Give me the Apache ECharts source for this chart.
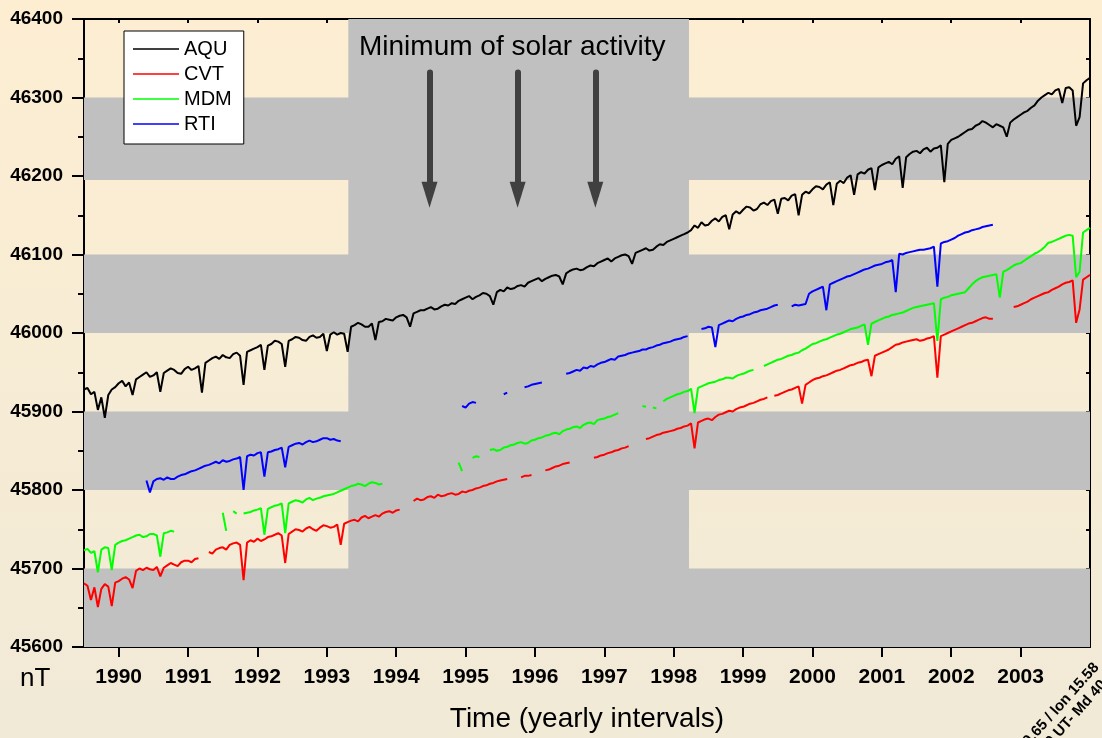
<!DOCTYPE html>
<html>
<head>
<meta charset="utf-8">
<title>Total intensity F - AQU, CVT, MDM, RTI</title>
<script src="https://cdn.jsdelivr.net/npm/echarts@6.0.0/dist/echarts.min.js"></script>
<style>
html, body { margin: 0; padding: 0; }
#chart { width: 1102px; height: 738px; }
</style>
</head>
<body>
<div id="chart"></div>
<script>
// sampling grid: one value every 0.05 year, 1989.5 .. 2004.0
var years = [];
for (var i = 0; i <= 290; i++) years.push(Math.round((1989.5 + i * 0.05) * 100) / 100);

var yearTicks = [1990, 1991, 1992, 1993, 1994, 1995, 1996, 1997, 1998, 1999, 2000, 2001, 2002, 2003];

// nT values (null = no data), one row per year
var aqu = [
  45928, 45930, 45922, 45925, 45902, 45918, 45892, 45921, 45928, 45931,
  45936, 45939, 45932, 45937, 45921, 45941, 45944, 45947, 45950, 45944, 45946, 45950, 45925, 45949, 45952, 45955, 45953, 45949, 45948, 45954, // 1990
  45957, 45953, 45955, 45958, 45924, 45962, 45965, 45968, 45970, 45967, 45972, 45969, 45968, 45973, 45975, 45971, 45934, 45976, 45978, 45980, // 1991
  45982, 45985, 45953, 45984, 45986, 45990, 45989, 45986, 45957, 45990, 45992, 45995, 45994, 45991, 45990, 45995, 45997, 45994, 45995, 45999, // 1992
  45977, 45998, 46001, 45998, 46000, 45999, 45976, 46008, 46010, 46013, 46011, 46008, 46008, 46012, 45991, 46014, 46015, 46018, 46017, 46016, // 1993
  46020, 46022, 46023, 46020, 46008, 46025, 46027, 46029, 46029, 46031, 46033, 46030, 46031, 46034, 46036, 46035, 46038, 46037, 46041, 46043, // 1994
  46045, 46047, 46043, 46046, 46048, 46051, 46050, 46047, 46036, 46052, 46055, 46053, 46058, 46056, 46057, 46060, 46061, 46059, 46064, 46066, // 1995
  46068, 46070, 46066, 46069, 46071, 46073, 46074, 46072, 46062, 46076, 46079, 46081, 46082, 46080, 46081, 46084, 46086, 46085, 46089, 46091, // 1996
  46093, 46095, 46091, 46095, 46097, 46099, 46100, 46098, 46088, 46102, 46104, 46106, 46108, 46105, 46106, 46110, 46113, 46112, 46116, 46118, // 1997
  46120, 46122, 46124, 46126, 46128, 46131, 46137, 46134, 46141, 46137, 46138, 46143, 46146, 46142, 46148, 46150, 46132, 46151, 46155, 46152, // 1998
  46157, 46161, 46160, 46156, 46158, 46164, 46166, 46163, 46168, 46170, 46152, 46171, 46172, 46169, 46175, 46177, 46150, 46176, 46180, 46178, // 1999
  46183, 46187, 46186, 46183, 46189, 46192, 46163, 46190, 46194, 46191, 46198, 46201, 46176, 46202, 46205, 46203, 46208, 46210, 46182, 46211, // 2000
  46214, 46216, 46218, 46215, 46222, 46225, 46185, 46224, 46228, 46231, 46232, 46229, 46234, 46236, 46231, 46235, 46236, 46239, 46192, 46241, // 2001
  46246, 46248, 46250, 46253, 46256, 46259, 46260, 46264, 46266, 46270, 46268, 46265, 46262, 46266, 46264, 46262, 46250, 46268, 46272, 46275, // 2002
  46278, 46281, 46283, 46287, 46290, 46296, 46300, 46303, 46306, 46304, 46309, 46311, 46293, 46312, 46313, 46309, 46264, 46275, 46318, 46322, // 2003
  46325
];
var cvt = [
  45681, 45678, 45660, 45676, 45651, 45674, 45680, 45677, 45652, 45682,
  45684, 45687, 45689, 45686, 45675, 45697, 45700, 45698, 45701, 45699, 45698, 45702, 45690, 45701, 45704, 45707, 45705, 45703, 45708, 45710, // 1990
  45710, 45708, 45712, 45713, null, null, 45721, 45719, 45724, 45726, 45727, 45724, 45730, 45732, 45733, 45730, 45685, 45733, 45736, 45734, // 1991
  45738, 45735, 45737, 45740, 45741, 45743, 45745, 45742, 45707, 45744, 45747, 45750, 45749, 45747, 45751, 45753, 45750, 45748, 45752, 45755, // 1992
  45754, 45752, 45753, 45756, 45730, 45757, 45759, 45761, 45762, 45760, 45765, 45767, 45764, 45766, 45768, 45766, 45770, 45772, 45773, 45771, // 1993
  45774, 45775, null, null, null, 45786, 45789, 45787, 45788, 45791, 45792, 45790, 45794, 45792, 45793, 45795, 45796, 45794, 45795, 45798, // 1994
  45797, 45799, 45800, 45802, 45803, 45805, 45806, 45808, 45809, 45811, 45812, 45813, 45814, null, null, null, 45816, 45818, 45818, 45819, // 1995
  null, null, null, 45825, 45826, 45828, 45830, 45831, 45833, 45834, 45835, null, null, null, null, null, null, 45841, 45842, 45844, // 1996
  45845, 45847, 45848, 45850, 45851, 45853, 45854, 45856, null, null, null, null, 45865, 45866, 45868, 45870, 45871, 45873, 45874, 45875, // 1997
  45876, 45878, 45879, 45881, 45882, 45885, 45853, 45886, 45888, 45890, 45891, 45889, 45893, 45896, 45897, 45899, 45901, 45900, 45903, 45905, // 1998
  45906, 45908, 45910, 45911, 45913, 45915, 45916, 45918, null, 45920, 45921, 45923, 45925, 45927, 45928, 45930, 45932, 45910, 45934, 45937, // 1999
  45940, 45942, 45943, 45945, 45946, 45948, 45950, 45952, 45953, 45955, 45957, 45959, 45960, 45962, 45963, 45965, 45966, 45945, 45971, 45973, // 2000
  45975, 45977, 45979, 45982, 45985, 45986, 45988, 45989, 45990, 45991, 45992, 45990, 45991, 45993, 45994, 45996, 45943, 45996, 45998, 46000, // 2001
  46002, 46004, 46006, 46008, 46010, 46012, 46013, 46015, 46017, 46019, 46020, 46018, 46018, null, null, null, null, null, 46033, 46034, // 2002
  46036, 46038, 46040, 46043, 46045, 46047, 46049, 46051, 46052, 46055, 46057, 46059, 46062, 46064, 46065, 46067, 46013, 46030, 46068, 46071, // 2003
  46074
];
var mdm = [
  45723, 45725, 45720, 45722, 45695, 45724, 45727, 45726, 45698, 45730,
  45733, 45735, 45736, 45738, 45740, 45742, 45743, 45740, 45741, 45744, 45744, 45742, 45715, 45745, 45746, 45748, 45747, null, null, null, // 1990
  null, null, null, null, null, null, null, null, null, null, 45771, 45748, null, 45773, 45770, null, 45770, 45771, 45772, 45774, // 1991
  45775, 45777, 45743, 45776, 45778, 45780, 45781, 45783, 45745, 45783, 45785, 45787, 45786, 45784, 45788, 45790, 45787, 45789, 45790, 45792, // 1992
  45793, 45794, 45795, 45797, 45799, 45801, 45803, 45805, 45806, 45808, 45807, 45805, 45808, 45810, 45809, 45807, 45808, null, null, null, // 1993
  null, null, null, null, null, null, null, null, null, null, null, null, null, null, null, null, null, null, 45835, 45824, // 1994
  null, null, 45841, 45843, 45842, null, null, 45851, 45852, 45850, 45851, 45854, 45855, 45857, 45858, 45860, 45861, 45859, 45860, 45863, // 1995
  45864, 45866, 45867, 45869, 45870, 45872, 45873, 45871, 45875, 45877, 45878, 45880, 45881, 45879, 45883, 45885, 45886, 45884, 45889, 45890, // 1996
  45891, 45893, 45894, 45896, 45898, null, null, null, null, null, null, 45907, 45906, null, 45905, 45904, null, 45913, 45916, 45918, // 1997
  45920, 45922, 45923, 45925, 45926, 45929, 45898, 45930, 45932, 45934, 45936, 45937, 45938, 45940, 45941, 45943, 45943, 45942, 45945, 45947, // 1998
  45948, 45950, 45952, 45953, null, null, 45958, 45960, 45962, 45964, 45966, 45967, 45969, 45971, 45972, 45974, 45975, 45978, 45980, 45983, // 1999
  45986, 45987, 45989, 45991, 45992, 45994, 45996, 45998, 45999, 46001, 46003, 46005, 46006, 46007, 46009, 46011, 45985, 46012, 46014, 46016, // 2000
  46018, 46020, 46021, 46023, 46024, 46025, 46026, 46028, 46030, 46032, 46033, 46034, 46035, 46036, 46037, 46038, 45990, 46043, 46045, 46046, // 2001
  46048, 46049, 46050, 46051, 46052, 46057, 46062, 46066, 46069, 46071, 46072, 46073, 46074, 46075, 46045, 46078, 46080, 46083, 46086, 46088, // 2002
  46089, 46092, 46095, 46098, 46101, 46103, 46106, 46110, 46115, 46116, 46118, 46120, 46122, 46124, 46125, 46124, 46071, 46078, 46128, 46131, // 2003
  46134
];
var rti = [
  null, null, null, null, null, null, null, null, null, null,
  null, null, null, null, null, null, null, null, 45812, 45797, 45811, 45814, 45815, 45813, 45816, 45814, 45814, 45817, 45819, 45820, // 1990
  45822, 45824, 45825, 45827, 45829, 45831, 45832, 45834, 45836, 45834, 45838, 45836, 45837, 45839, 45840, 45842, 45800, 45843, 45845, 45844, // 1991
  45847, 45848, 45817, 45848, 45849, 45851, 45852, 45854, 45829, 45855, 45857, 45859, 45860, 45858, 45861, 45863, 45861, 45862, 45864, 45866, // 1992
  45866, 45864, 45865, 45863, 45862, null, null, null, null, null, null, null, null, null, null, null, null, null, null, null, // 1993
  null, null, null, null, null, null, null, null, null, null, null, null, null, null, null, null, null, null, null, 45907, // 1994
  45905, 45910, 45912, 45911, null, null, null, null, null, null, null, 45922, 45924, null, null, null, null, 45931, 45932, 45934, // 1995
  45935, 45936, 45937, null, null, null, null, null, null, 45948, 45949, 45951, 45953, 45952, 45956, 45955, 45958, 45957, 45960, 45962, // 1996
  45963, 45965, 45967, 45966, 45970, 45971, 45972, 45974, 45975, 45976, 45977, 45979, 45979, 45981, 45982, 45984, 45985, 45987, 45988, 45989, // 1997
  45991, 45992, 45993, 45995, 45996, null, null, null, 46005, 46006, 46008, 46007, 45982, 46010, 46012, 46014, 46016, 46015, 46018, 46020, // 1998
  46021, 46023, 46024, 46026, 46027, 46029, 46030, 46031, 46033, 46035, 46036, null, null, null, 46034, 46036, 46035, 46036, 46037, 46050, // 1999
  46053, 46055, 46057, 46059, 46029, 46062, 46064, 46066, 46068, 46070, 46072, 46073, 46075, 46077, 46079, 46081, 46082, 46084, 46086, 46087, // 2000
  46088, 46090, 46091, 46093, 46052, 46101, 46100, 46102, 46103, 46104, 46105, 46106, 46106, 46107, 46108, 46110, 46059, 46114, 46116, 46117, // 2001
  46119, 46121, 46124, 46126, 46128, 46129, 46131, 46132, 46133, 46135, 46136, 46137, 46138, null, null, null, null, null, null, null, // 2002
  null, null, null, null, null, null, null, null, null, null, null, null, null, null, null, null, null, null, null, null, // 2003
  null
];

var grayBands = [[45600, 45700], [45800, 45900], [46000, 46100], [46195, 46300]];
var solarMin = [1993.31, 1998.22];
var arrowYears = [1994.48, 1995.75, 1996.87];
var arrowFrom = 46332, arrowTo = 46176;

var FONT = '"Liberation Sans", Arial, sans-serif';

function pairs(vals) {
  return vals.map(function (v, i) { return [years[i], v]; });
}

var bandAreas = grayBands.map(function (b) { return [{ yAxis: b[0] }, { yAxis: b[1] }]; });
bandAreas.push([{ xAxis: solarMin[0] }, { xAxis: solarMin[1] }]);

var arrows = arrowYears.map(function (x) {
  return [
    { coord: [x, arrowFrom], symbol: 'none' },
    { coord: [x, arrowTo], symbol: 'triangle', symbolSize: [16, 26] }
  ];
});

function lineSeries(name, vals, color) {
  return {
    name: name,
    type: 'line',
    data: pairs(vals),
    showSymbol: false,
    symbol: 'none',
    connectNulls: false,
    lineStyle: { color: color, width: 2 },
    itemStyle: { color: color },
    emphasis: { disabled: true },
    z: 3
  };
}

var chart = echarts.init(document.getElementById('chart'));

var aquSeries = lineSeries('AQU', aqu, '#000000');
aquSeries.markArea = {
  silent: true,
  itemStyle: { color: '#c0c0c0', opacity: 1 },
  data: bandAreas
};
aquSeries.markLine = {
  silent: true,
  symbol: ['none', 'triangle'],
  lineStyle: { color: '#404040', width: 6, type: 'solid', cap: 'round' },
  itemStyle: { color: '#404040' },
  label: { show: false },
  emphasis: { disabled: true },
  data: arrows
};

var option = {
  animation: false,
  backgroundColor: {
    type: 'linear', x: 0, y: 0, x2: 0, y2: 1,
    colorStops: [{ offset: 0, color: '#fdeed2' }, { offset: 1, color: '#f1ead7' }]
  },
  grid: { left: 84, right: 12, top: 19, bottom: 91 },
  legend: {
    data: ['AQU', 'CVT', 'MDM', 'RTI'],
    orient: 'vertical',
    left: 124,
    top: 31,
    backgroundColor: '#ffffff',
    borderColor: '#000000',
    borderWidth: 1,
    padding: [8, 12, 10, 9],
    icon: 'rect',
    itemWidth: 46,
    itemHeight: 1.5,
    itemGap: 5,
    textStyle: { fontSize: 20, fontFamily: FONT, color: '#000' }
  },
  xAxis: [{
    type: 'value',
    position: 'bottom',
    min: 1989.5,
    max: 2004,
    axisLine: { lineStyle: { color: '#000', width: 2 } },
    axisTick: { customValues: yearTicks, length: 10, lineStyle: { color: '#000', width: 2 } },
    axisLabel: {
      customValues: yearTicks,
      formatter: function (v) { return String(v); },
      margin: 20, fontSize: 21, fontWeight: 'bold', fontFamily: FONT, color: '#000'
    },
    splitLine: { show: false }
  }, {
    type: 'value',
    position: 'top',
    min: 1989.5,
    max: 2004,
    axisLine: { lineStyle: { color: '#000', width: 2 } },
    axisTick: { customValues: yearTicks, inside: true, length: 4, lineStyle: { color: '#000', width: 2 } },
    axisLabel: { show: false },
    splitLine: { show: false }
  }],
  yAxis: [{
    type: 'value',
    position: 'left',
    min: 45600,
    max: 46400,
    interval: 100,
    axisLine: { show: true, lineStyle: { color: '#000', width: 2 } },
    axisTick: { show: true, length: 12, lineStyle: { color: '#000', width: 2 } },
    minorTick: { show: true, splitNumber: 2, length: 6, lineStyle: { color: '#000', width: 2 } },
    axisLabel: {
      formatter: function (v) { return String(v); },
      margin: 21, fontSize: 19, fontWeight: 'bold', fontFamily: FONT, color: '#000'
    },
    splitLine: { show: false }
  }, {
    type: 'value',
    position: 'right',
    min: 45600,
    max: 46400,
    interval: 50,
    axisLine: { show: true, lineStyle: { color: '#000', width: 2 } },
    axisTick: { show: true, inside: true, length: 4, lineStyle: { color: '#000', width: 2 } },
    axisLabel: { show: false },
    splitLine: { show: false }
  }],
  series: [
    aquSeries,
    lineSeries('CVT', cvt, '#ff0000'),
    lineSeries('MDM', mdm, '#00ff00'),
    lineSeries('RTI', rti, '#0000ff')
  ],
  graphic: [
    {
      type: 'text', x: 359, y: 47, z: 10,
      style: { text: 'Minimum of solar activity', fontSize: 28, fontFamily: FONT, fill: '#000', align: 'left', verticalAlign: 'middle' }
    },
    {
      type: 'text', x: 20, y: 679,
      style: { text: 'nT', fontSize: 26, fontFamily: FONT, fill: '#000', align: 'left', verticalAlign: 'middle' }
    },
    {
      type: 'text', x: 587, y: 719,
      style: { text: 'Time (yearly intervals)', fontSize: 28, fontFamily: FONT, fill: '#000', align: 'center', verticalAlign: 'middle' }
    },
    {
      type: 'group', x: 1102, y: 670, rotation: 0.84,
      children: [
        {
          type: 'text', x: 0, y: 0,
          style: { text: 'lat 40.65 / lon 15.58', fontSize: 15, fontWeight: 'bold', fontFamily: FONT, fill: '#000', align: 'right', verticalAlign: 'bottom' }
        },
        {
          type: 'text', x: -8, y: 17,
          style: { text: '00 UT- Md 40', fontSize: 15, fontWeight: 'bold', fontFamily: FONT, fill: '#000', align: 'right', verticalAlign: 'bottom' }
        }
      ]
    }
  ]
};

chart.setOption(option);
</script>
</body>
</html>
